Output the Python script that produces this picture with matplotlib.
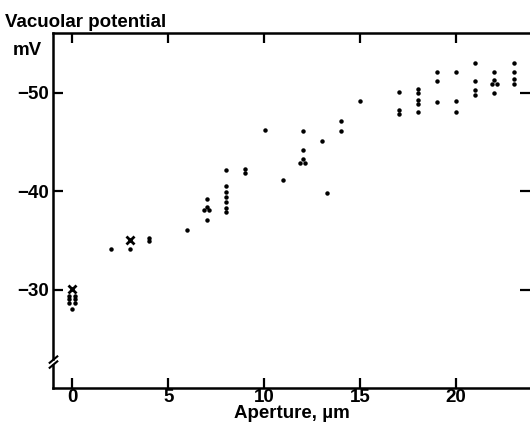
import matplotlib.pyplot as plt

# dados (abertura em um, potencial vacuolar em mV)
dot_x = [-0.15, 0.15, -0.15, 0.15, -0.15, 0.15, 0.0,
         2.0, 3.0, 4.0, 4.0, 6.0,
         7.0, 6.88, 7.0, 7.12, 7.0,
         8.0, 8.0, 8.0, 8.0, 8.0, 8.0, 8.0,
         9.0, 9.0, 10.05, 11.0,
         12.0, 12.0, 12.0, 11.86, 12.14,
         13.0, 13.3, 14.0, 14.0, 15.0,
         17.0, 17.0, 17.0,
         18.0, 18.0, 18.0, 18.0, 18.0,
         19.0, 19.0, 19.0,
         20.0, 20.0, 20.0,
         21.0, 21.0, 21.0, 21.0,
         22.0, 22.0, 21.88, 22.12, 22.0,
         23.0, 23.0, 23.0, 23.0]
dot_y = [-29.4, -29.4, -29.0, -29.0, -28.6, -28.6, -28.0,
         -34.1, -34.1, -35.3, -34.9, -36.1,
         -39.2, -38.1, -38.4, -38.1, -37.1,
         -42.2, -40.5, -39.9, -39.4, -38.9, -38.3, -37.9,
         -42.3, -41.9, -46.2, -41.2,
         -46.1, -44.2, -43.3, -42.9, -42.9,
         -45.1, -39.8, -47.2, -46.1, -49.2,
         -50.1, -48.3, -47.9,
         -50.4, -50.0, -49.3, -48.9, -48.1,
         -52.1, -51.2, -49.1,
         -52.1, -49.2, -48.1,
         -53.0, -51.2, -50.3, -49.8,
         -52.1, -51.3, -50.9, -50.9, -50.0,
         -53.0, -52.1, -51.4, -50.9]

cross_x = [0.0, 3.0]
cross_y = [-30.1, -35.0]

x_ticks = [0, 5, 10, 15, 20]
y_ticks = [-50, -40, -30]
y_labels = ['\u221250', '\u221240', '\u221230']

plt.rcParams['font.family'] = ['Liberation Sans', 'DejaVu Sans']
plt.rcParams['font.weight'] = 'bold'

fig = plt.figure(figsize=(5.3, 4.34), dpi=100)
ax = fig.add_axes([0.1, 0.106, 0.9, 0.818])

ax.plot(dot_x, dot_y, 'o', color='black', markersize=2.2, linestyle='none')
ax.plot(cross_x, cross_y, 'x', color='black', markersize=5.5, markeredgewidth=2.0, linestyle='none')

ax.set_xlim(-1.0, 23.85)
ax.set_ylim(-20.0, -56.1)  # eixo invertido: -50 em cima

ax.set_xticks(x_ticks)
ax.set_yticks(y_ticks)
ax.set_xticklabels([str(t) for t in x_ticks], fontsize=13.5, fontweight='bold')
ax.set_yticklabels(y_labels, fontsize=13.5, fontweight='bold')
ax.tick_params(direction='in', length=7, width=1.6, top=True, right=True)
ax.tick_params(axis='x', pad=1)
ax.tick_params(axis='y', pad=3)

# eixo esquerdo com quebra
ax.spines['left'].set_visible(False)
ax.spines['right'].set_visible(False)
for s in ['top', 'bottom']:
    ax.spines[s].set_linewidth(1.8)
brk = 0.073
ax.plot([0, 0], [0, brk - 0.008], transform=ax.transAxes, color='black', lw=1.8, clip_on=False)
ax.plot([0, 0], [brk + 0.008, 1], transform=ax.transAxes, color='black', lw=1.8, clip_on=False)
for dy in [-0.007, 0.007]:
    ax.plot([-0.007, 0.009], [brk + dy - 0.009, brk + dy + 0.009], transform=ax.transAxes,
            color='black', lw=1.5, clip_on=False)

ax.set_xlabel('Aperture, µm', fontsize=13.5, fontweight='bold', labelpad=-1)
fig.text(0.01, 0.938, 'Vacuolar potential', fontsize=13.5, fontweight='bold', ha='left', va='baseline')
fig.text(0.024, 0.873, 'mV', fontsize=13.5, fontweight='bold', ha='left', va='baseline')

fig.savefig('out.png', dpi=100)
